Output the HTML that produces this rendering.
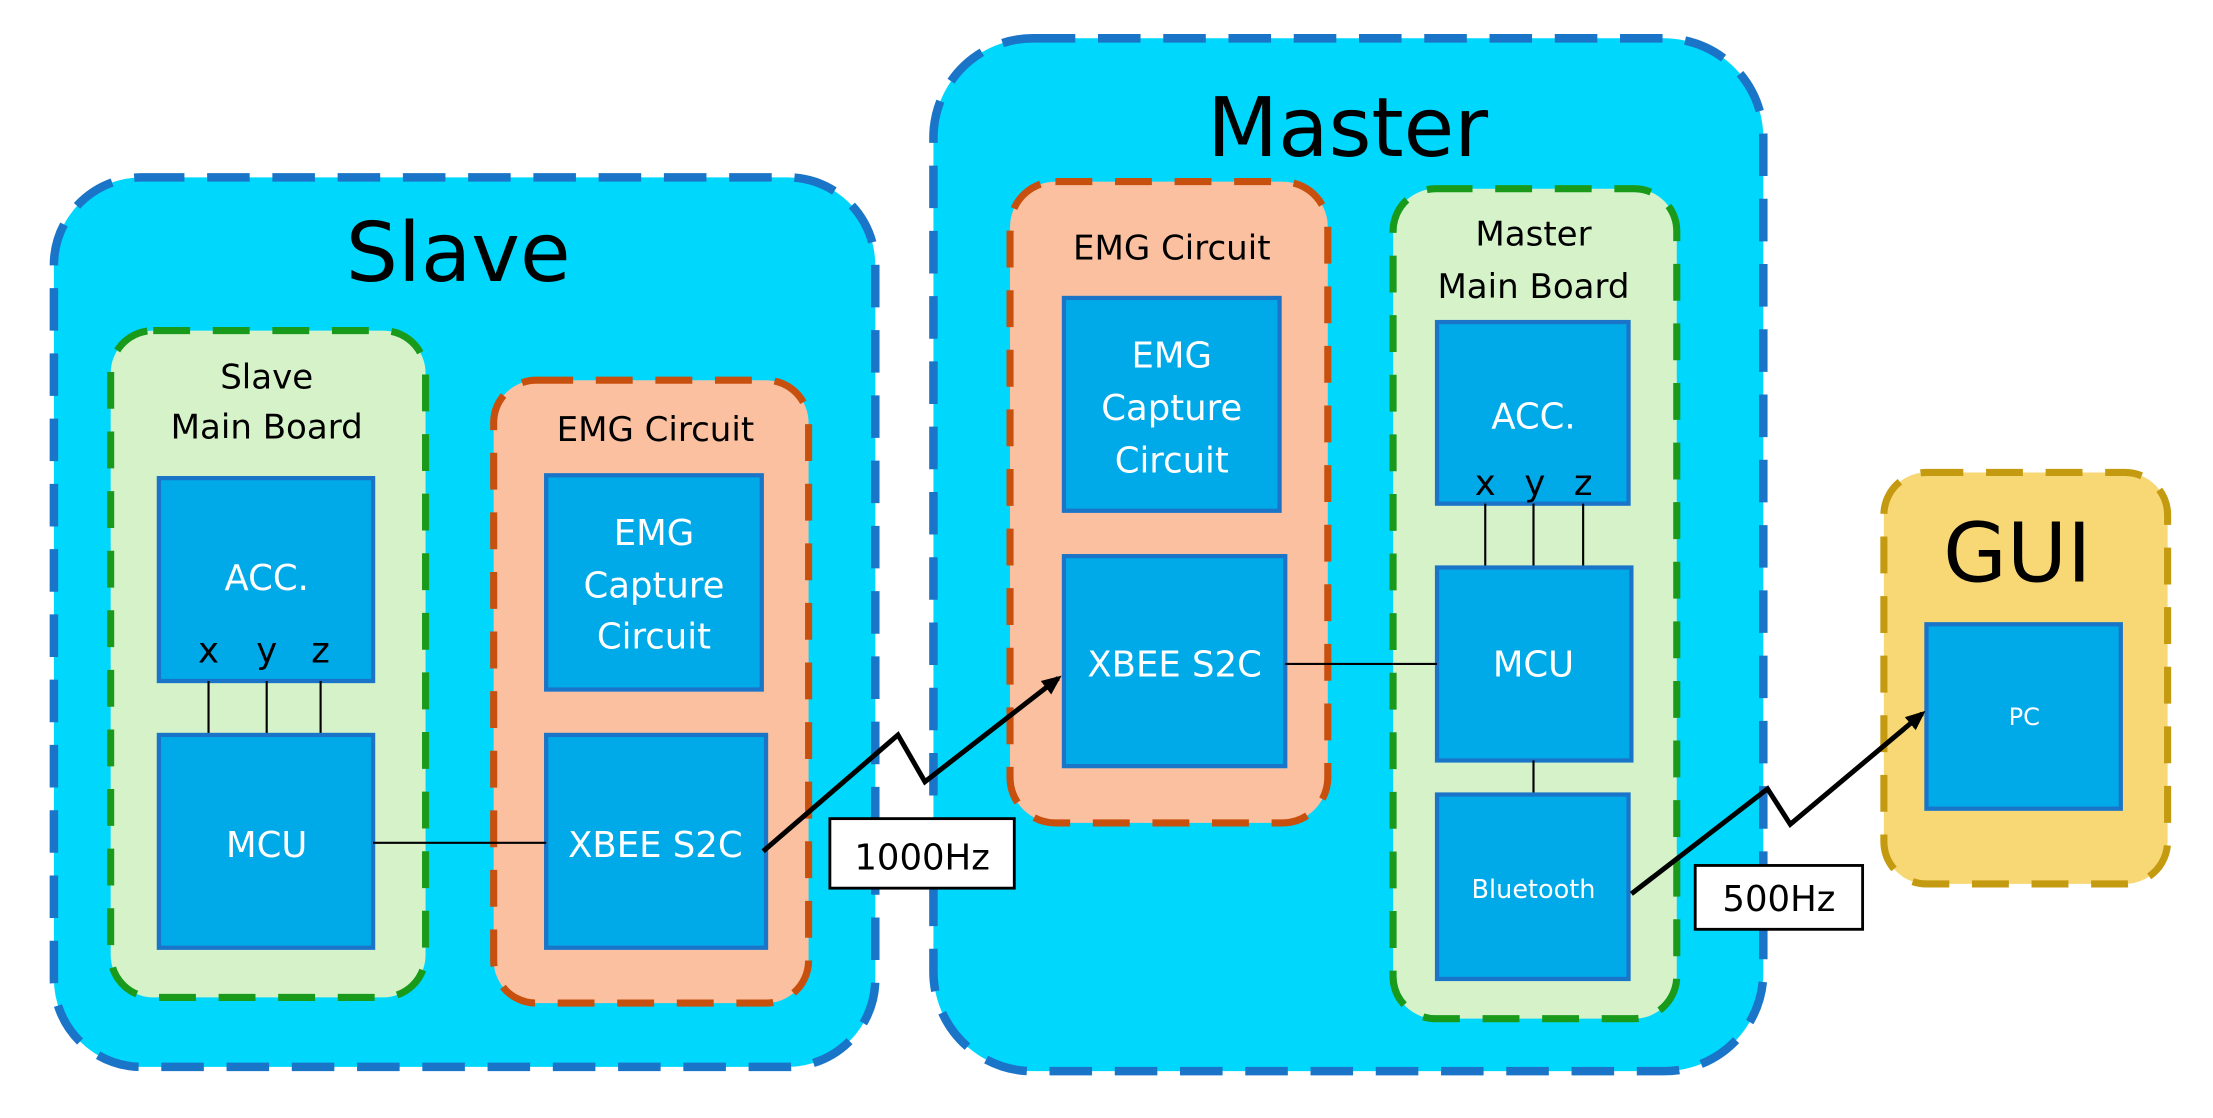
<!DOCTYPE html>
<html><head><meta charset="utf-8"><style>
html,body{margin:0;padding:0;background:#fff;}
svg{display:block;}
text{font-family:"DejaVu Sans","Liberation Sans",sans-serif;text-anchor:middle;}
.w{fill:#fff;}
.k{fill:#000;}
</style></head><body>
<svg width="2213" height="1118" viewBox="0 0 1560 788" preserveAspectRatio="none" xmlns="http://www.w3.org/2000/svg">
<defs>
<marker id="ah" markerWidth="14" markerHeight="14" refX="11" refY="7" orient="auto" markerUnits="userSpaceOnUse" viewBox="0 0 14 14">
<path d="M0,1 L14,7 L0,13 z" fill="#000"/></marker>
</defs>
<!-- Slave -->
<rect x="38" y="125" width="579" height="627" rx="62" fill="#00d7fd" stroke="#1a75c9" stroke-width="6" stroke-dasharray="30 16"/>
<text x="323" y="198" font-size="58" class="k">Slave</text>
<rect x="78" y="233" width="222" height="470" rx="30" fill="#d5f2c9" stroke="#1a9a1a" stroke-width="5" stroke-dasharray="26 16"/>
<text x="188" y="274" font-size="24" class="k">Slave</text>
<text x="188" y="309" font-size="24" class="k">Main Board</text>
<rect x="112" y="337" width="151" height="143" fill="#00a9e8" stroke="#1a75c9" stroke-width="3"/>
<text x="188" y="416" font-size="25" class="w">ACC.</text>
<text x="147" y="467" font-size="25" class="k">x</text>
<text x="188" y="467" font-size="25" class="k">y</text>
<text x="226" y="467" font-size="25" class="k">z</text>
<line x1="147" y1="480" x2="147" y2="518" stroke="#000" stroke-width="1.5"/>
<line x1="188" y1="480" x2="188" y2="518" stroke="#000" stroke-width="1.5"/>
<line x1="226" y1="480" x2="226" y2="518" stroke="#000" stroke-width="1.5"/>
<rect x="112" y="518" width="151" height="150" fill="#00a9e8" stroke="#1a75c9" stroke-width="3"/>
<text x="188" y="604" font-size="25" class="w">MCU</text>
<rect x="348" y="268" width="222" height="439" rx="30" fill="#fbc0a0" stroke="#c8500f" stroke-width="5" stroke-dasharray="26 16"/>
<text x="462" y="311" font-size="24" class="k">EMG Circuit</text>
<rect x="385" y="335" width="152" height="151" fill="#00a9e8" stroke="#1a75c9" stroke-width="3"/>
<text x="461" y="384" font-size="25" class="w">EMG</text>
<text x="461" y="421" font-size="25" class="w">Capture</text>
<text x="461" y="457" font-size="25" class="w">Circuit</text>
<rect x="385" y="518" width="155" height="150" fill="#00a9e8" stroke="#1a75c9" stroke-width="3"/>
<text x="462" y="604" font-size="25" class="w">XBEE S2C</text>
<line x1="263" y1="594" x2="385" y2="594" stroke="#000" stroke-width="1.5"/>
<!-- Master -->
<rect x="658" y="27" width="585" height="728" rx="70" fill="#00d7fd" stroke="#1a75c9" stroke-width="6" stroke-dasharray="30 16"/>
<text x="950" y="110" font-size="58" class="k">Master</text>
<rect x="712" y="128" width="224" height="452" rx="32" fill="#fbc0a0" stroke="#c8500f" stroke-width="5" stroke-dasharray="26 16"/>
<text x="826" y="183" font-size="24" class="k">EMG Circuit</text>
<rect x="750" y="210" width="152" height="150" fill="#00a9e8" stroke="#1a75c9" stroke-width="3"/>
<text x="826" y="259" font-size="25" class="w">EMG</text>
<text x="826" y="296" font-size="25" class="w">Capture</text>
<text x="826" y="333" font-size="25" class="w">Circuit</text>
<rect x="750" y="392" width="156" height="148" fill="#00a9e8" stroke="#1a75c9" stroke-width="3"/>
<text x="828" y="477" font-size="25" class="w">XBEE S2C</text>
<rect x="982" y="133" width="200" height="585" rx="30" fill="#d5f2c9" stroke="#1a9a1a" stroke-width="5" stroke-dasharray="26 16"/>
<text x="1081" y="173" font-size="24" class="k">Master</text>
<text x="1081" y="210" font-size="24" class="k">Main Board</text>
<rect x="1013" y="227" width="135" height="128" fill="#00a9e8" stroke="#1a75c9" stroke-width="3"/>
<text x="1081" y="302" font-size="25" class="w">ACC.</text>
<text x="1047" y="349" font-size="25" class="k">x</text>
<text x="1082" y="349" font-size="25" class="k">y</text>
<text x="1116" y="349" font-size="25" class="k">z</text>
<line x1="1047" y1="355" x2="1047" y2="400" stroke="#000" stroke-width="1.5"/>
<line x1="1081" y1="355" x2="1081" y2="400" stroke="#000" stroke-width="1.5"/>
<line x1="1116" y1="355" x2="1116" y2="400" stroke="#000" stroke-width="1.5"/>
<rect x="1013" y="400" width="137" height="136" fill="#00a9e8" stroke="#1a75c9" stroke-width="3"/>
<text x="1081" y="477" font-size="25" class="w">MCU</text>
<line x1="906" y1="468" x2="1013" y2="468" stroke="#000" stroke-width="1.5"/>
<line x1="1081" y1="536" x2="1081" y2="560" stroke="#000" stroke-width="1.5"/>
<rect x="1013" y="560" width="135" height="130" fill="#00a9e8" stroke="#1a75c9" stroke-width="3"/>
<text x="1081" y="633" font-size="18" class="w">Bluetooth</text>
<!-- GUI -->
<rect x="1328" y="333" width="200" height="290" rx="30" fill="#f8d775" stroke="#c49a10" stroke-width="5" stroke-dasharray="26 16"/>
<text x="1422" y="410" font-size="58" class="k">GUI</text>
<rect x="1358" y="440" width="137" height="130" fill="#00a9e8" stroke="#1a75c9" stroke-width="3"/>
<text x="1427" y="511" font-size="17" class="w">PC</text>
<!-- wireless links -->
<polyline points="538,600 633,518 652,551 746,478" fill="none" stroke="#000" stroke-width="3.5" marker-end="url(#ah)"/>
<rect x="585" y="577" width="130" height="49" fill="#fff" stroke="#000" stroke-width="2"/>
<text x="650" y="613" font-size="25" class="k">1000Hz</text>
<polyline points="1150,630 1246,556 1262,581 1355,503" fill="none" stroke="#000" stroke-width="3.5" marker-end="url(#ah)"/>
<rect x="1195" y="610" width="118" height="45" fill="#fff" stroke="#000" stroke-width="2"/>
<text x="1254" y="642" font-size="25" class="k">500Hz</text>
</svg>
</body></html>
